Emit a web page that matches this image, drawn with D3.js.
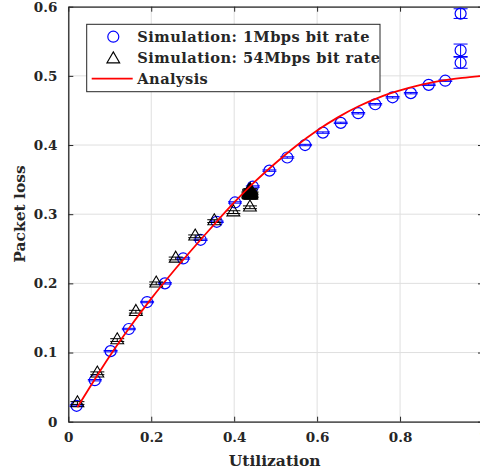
<!DOCTYPE html>
<html>
<head>
<meta charset="utf-8">
<script src="https://cdn.jsdelivr.net/npm/d3@7"></script>
<style>
  body { margin: 0; background: #fff; }
  svg { display: block; overflow: hidden; }
  .tick text, .aText, .legText { font-family: "DejaVu Serif", serif; font-weight: bold; fill: #262626; }
</style>
</head>
<body>
<div class="plot1"></div>
<script>
// packet loss vs utilization: simulation points + analysis curve

// data
var simU1 = [0.020, 0.064, 0.102, 0.146, 0.190, 0.233, 0.277, 0.319, 0.358, 0.402, 0.445, 0.485,
             0.528, 0.571, 0.614, 0.657, 0.699, 0.740, 0.782, 0.826, 0.869, 0.909, 0.946, 0.946, 0.946];
var simLoss1 = [0.023, 0.060, 0.102, 0.134, 0.173, 0.200, 0.236, 0.263, 0.289, 0.317, 0.340, 0.363,
                0.382, 0.400, 0.418, 0.432, 0.446, 0.459, 0.469, 0.475, 0.487, 0.493, 0.590, 0.537, 0.519];
var simErr1 = [0.001, 0.001, 0.001, 0.001, 0.001, 0.001, 0.001, 0.001, 0.001, 0.001, 0.001, 0.001,
               0.001, 0.001, 0.001, 0.001, 0.001, 0.001, 0.001, 0.001, 0.001, 0.001, 0.007, 0.009, 0.008];

var simU54 = [0.022, 0.070, 0.118, 0.163, 0.212, 0.259, 0.306, 0.352, 0.398, 0.438,
              0.434, 0.435, 0.436, 0.437, 0.438, 0.439, 0.440, 0.441, 0.442, 0.436, 0.439, 0.441];
var simLoss54 = [0.027, 0.070, 0.118, 0.159, 0.200, 0.236, 0.268, 0.290, 0.303, 0.310,
                 0.330, 0.328, 0.332, 0.327, 0.331, 0.329, 0.333, 0.328, 0.330, 0.334, 0.335, 0.327];
var simErr54 = [0.002, 0.002, 0.002, 0.002, 0.002, 0.002, 0.002, 0.002, 0.002, 0.002,
                0.002, 0.002, 0.002, 0.002, 0.002, 0.002, 0.002, 0.002, 0.002, 0.002, 0.002, 0.002];

var anaU = [0.022, 0.05, 0.1, 0.15, 0.2, 0.25, 0.3, 0.35, 0.4, 0.45, 0.5, 0.55, 0.6, 0.65,
            0.7, 0.75, 0.8, 0.85, 0.9, 0.95, 1.0];
var anaLoss = [0.021, 0.048, 0.095, 0.138, 0.178, 0.215, 0.250, 0.284, 0.317, 0.347, 0.374, 0.399,
               0.421, 0.440, 0.456, 0.469, 0.479, 0.487, 0.493, 0.497, 0.500];

var xTicks = [0, 0.2, 0.4, 0.6, 0.8, 1];
var yTicks = [0, 0.1, 0.2, 0.3, 0.4, 0.5, 0.6];
var legendLabels = ["Simulation: 1Mbps bit rate", "Simulation: 54Mbps bit rate", "Analysis"];

// step 1: set up chart
var svgWidth = 480;
var svgHeight = 475;
var margin = { top: 6.7, left: 68.3 };
var width = 414.7;
var height = 415;

var svg = d3.select(".plot1")
  .append("svg")
  .attr("width", svgWidth)
  .attr("height", svgHeight);

var chartGroup = svg.append("g")
  .attr("transform", `translate(${margin.left}, ${margin.top})`);

// step 2: scales
var xScale = d3.scaleLinear().domain([0, 1]).range([0, width]);
var yScale = d3.scaleLinear().domain([0, 0.6]).range([height, 0]);

// step 3: grid
chartGroup.append("g")
  .selectAll("line")
  .data(xTicks)
  .enter()
  .append("line")
  .attr("x1", d => xScale(d)).attr("x2", d => xScale(d))
  .attr("y1", 0).attr("y2", height)
  .attr("stroke", "#dfdfdf").attr("stroke-width", 1);

chartGroup.append("g")
  .selectAll("line")
  .data(yTicks)
  .enter()
  .append("line")
  .attr("x1", 0).attr("x2", width)
  .attr("y1", d => yScale(d)).attr("y2", d => yScale(d))
  .attr("stroke", "#dfdfdf").attr("stroke-width", 1);

// step 4: axes (ticks inward, box on)
var fmt = d => d === 0 ? "0" : d === 1 ? "1" : d3.format(".1f")(d);

var bottomAxis = d3.axisBottom(xScale).tickValues(xTicks).tickFormat(fmt).tickSizeInner(-5).tickSizeOuter(0).tickPadding(11);
var leftAxis = d3.axisLeft(yScale).tickValues(yTicks).tickFormat(fmt).tickSizeInner(-5).tickSizeOuter(0).tickPadding(11);
var topAxis = d3.axisTop(xScale).tickValues(xTicks).tickFormat("").tickSizeInner(-5).tickSizeOuter(0);
var rightAxis = d3.axisRight(yScale).tickValues(yTicks).tickFormat("").tickSizeInner(-5).tickSizeOuter(0);

chartGroup.append("g").attr("transform", `translate(0, ${height})`).call(bottomAxis);
chartGroup.append("g").call(leftAxis);
chartGroup.append("g").call(topAxis);
chartGroup.append("g").attr("transform", `translate(${width}, 0)`).call(rightAxis);

chartGroup.selectAll(".domain").attr("stroke", "#262626").attr("stroke-width", 1.3);
chartGroup.selectAll(".tick line").attr("stroke", "#262626").attr("stroke-width", 1);
chartGroup.selectAll(".tick text").style("font-size", "13.5px").attr("fill", "#262626");

// step 5: error bars + circles (1Mbps)
var sim1 = simU1.map((u, i) => ({ u: u, loss: simLoss1[i], err: simErr1[i] }));
var sim54 = simU54.map((u, i) => ({ u: u, loss: simLoss54[i], err: simErr54[i] }));

function drawErrorBars(data, color) {
  var g = chartGroup.append("g").attr("stroke", color).attr("stroke-width", 1).attr("fill", "none");
  data.forEach(d => {
    var x = xScale(d.u);
    var yt = yScale(d.loss + d.err);
    var yb = yScale(d.loss - d.err);
    g.append("line").attr("x1", x).attr("x2", x).attr("y1", yt).attr("y2", yb);
    g.append("line").attr("x1", x - 7).attr("x2", x + 7).attr("y1", yt).attr("y2", yt);
    g.append("line").attr("x1", x - 7).attr("x2", x + 7).attr("y1", yb).attr("y2", yb);
  });
}

drawErrorBars(sim1, "#0000ff");
chartGroup.selectAll(".sim1")
  .data(sim1)
  .enter()
  .append("circle")
  .attr("class", "sim1")
  .attr("cx", d => xScale(d.u))
  .attr("cy", d => yScale(d.loss))
  .attr("r", 5.5)
  .attr("fill", "none")
  .attr("stroke", "#0000ff")
  .attr("stroke-width", 1.2);

// step 6: triangles (54Mbps)
var triPath = "M0,-7.3L6.4,3.7L-6.4,3.7Z";
drawErrorBars(sim54, "#000");
chartGroup.selectAll(".sim54")
  .data(sim54)
  .enter()
  .append("path")
  .attr("class", "sim54")
  .attr("d", triPath)
  .attr("transform", d => `translate(${xScale(d.u)}, ${yScale(d.loss)})`)
  .attr("fill", "none")
  .attr("stroke", "#000")
  .attr("stroke-width", 1.1);

// step 7: analysis curve
var line = d3.line()
  .x(d => xScale(d[0]))
  .y(d => yScale(d[1]))
  .curve(d3.curveMonotoneX);

chartGroup.append("path")
  .datum(anaU.map((u, i) => [u, anaLoss[i]]))
  .attr("d", line)
  .attr("fill", "none")
  .attr("stroke", "#ff0000")
  .attr("stroke-width", 1.8);

// step 8: axis labels
svg.append("text")
  .attr("class", "aText")
  .attr("x", margin.left + width / 2 - 1)
  .attr("y", 466)
  .attr("text-anchor", "middle")
  .style("font-size", "15.5px")
  .text("Utilization");

svg.append("text")
  .attr("class", "aText")
  .attr("transform", "translate(25, 214) rotate(-90)")
  .attr("text-anchor", "middle")
  .style("font-size", "15.5px")
  .text("Packet loss");

// step 9: legend
var legend = svg.append("g");
legend.append("rect")
  .attr("x", 86.7).attr("y", 24.3)
  .attr("width", 293.3).attr("height", 67.4)
  .attr("fill", "#fff")
  .attr("stroke", "#262626")
  .attr("stroke-width", 1);

var rowY = [36.7, 57.7, 78.7];
legend.append("circle")
  .attr("cx", 113.3).attr("cy", rowY[0]).attr("r", 5.5)
  .attr("fill", "none").attr("stroke", "#0000ff").attr("stroke-width", 1.2);
legend.append("path")
  .attr("d", triPath)
  .attr("transform", `translate(113.3, ${rowY[1] + 1.5})`)
  .attr("fill", "none").attr("stroke", "#000").attr("stroke-width", 1.1);
legend.append("line")
  .attr("x1", 91.7).attr("x2", 132.7)
  .attr("y1", rowY[2]).attr("y2", rowY[2])
  .attr("stroke", "#ff0000").attr("stroke-width", 1.8);

legend.selectAll(".legText")
  .data(legendLabels)
  .enter()
  .append("text")
  .attr("class", "legText")
  .attr("x", 137.3)
  .attr("y", (d, i) => rowY[i] + 5)
  .style("font-size", "14.6px")
  .style("letter-spacing", "0.45px")
  .text(d => d);
</script>
</body>
</html>
